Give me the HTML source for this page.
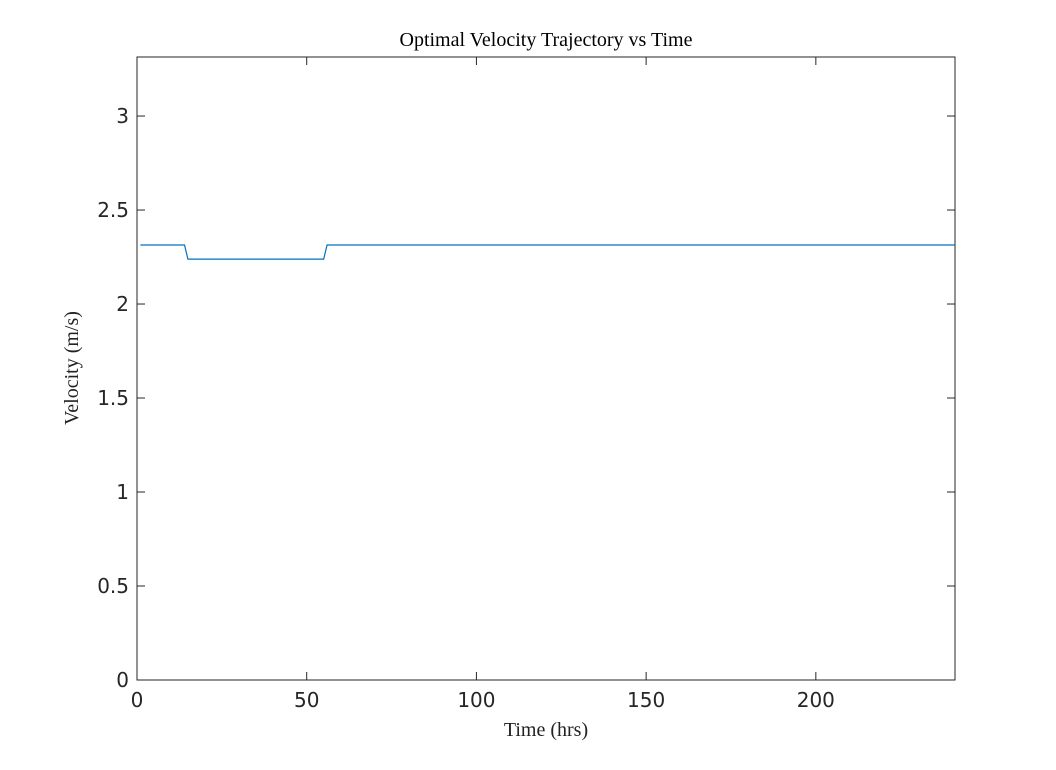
<!DOCTYPE html>
<html><head><meta charset="utf-8"><style>
body{margin:0;background:#fff;}
svg text{font-family:"DejaVu Sans","Liberation Sans",sans-serif;}
.serif{font-family:"Liberation Serif",serif;}
</style></head><body>
<svg id="chart" width="1056" height="765">
<rect width="1056" height="765" fill="#fff"/>
<g id="axes"></g>
<text class="serif" x="546" y="46" font-size="20" text-anchor="middle" fill="#000">Optimal Velocity Trajectory vs Time</text>
<text class="serif" x="546" y="736" font-size="20" text-anchor="middle" fill="#222">Time (hrs)</text>
<text class="serif" x="0" y="0" font-size="20" text-anchor="middle" fill="#222" transform="translate(78,368) rotate(-90)">Velocity (m/s)</text>
</svg>
<script>
const times=[1,14,15,55,56,241];
const velocities=[2.314,2.314,2.239,2.239,2.314,2.314];
const xTicks=[0,50,100,150,200];
const yTicks=[0,0.5,1,1.5,2,2.5,3];
const yTickLabels=["0","0.5","1","1.5","2","2.5","3"];
const L=137,R=955,T=57,B=680,XMAX=241,YMAX=3.314;
const xs=v=>L+(v/XMAX)*(R-L);
const ys=v=>B-(v/YMAX)*(B-T);
const NS="http://www.w3.org/2000/svg";
const g=document.getElementById('axes');
function mk(t,a){const e=document.createElementNS(NS,t);for(const k in a)e.setAttribute(k,a[k]);g.appendChild(e);return e;}
const box=mk('rect',{x:L,y:T,width:R-L,height:B-T,fill:'none',stroke:'#262626','stroke-width':1});


xTicks.forEach(v=>{
  const x=xs(v);
  const t1=mk('line',{x1:x,x2:x,y1:B,y2:B-8,stroke:'#262626'});
  
  
  const t2=mk('line',{x1:x,x2:x,y1:T,y2:T+8,stroke:'#262626'});
  
  
  const tx=mk('text',{x:x,y:B+27,'font-size':20,'text-anchor':'middle',fill:'#262626'});
  tx.textContent=v;
  
  
});
yTicks.forEach((v,i)=>{
  const y=ys(v);
  const t1=mk('line',{x1:L,x2:L+8,y1:y,y2:y,stroke:'#262626'});
  
  
  const t2=mk('line',{x1:R,x2:R-8,y1:y,y2:y,stroke:'#262626'});
  
  
  const tx=mk('text',{x:L-8,y:y+7,'font-size':20,'text-anchor':'end',fill:'#262626'});
  tx.textContent=yTickLabels[i];
  
  
});
const pts=times.map((t,i)=>xs(t)+','+ys(velocities[i])).join(' ');
const line=mk('polyline',{points:pts,fill:'none',stroke:'#0072bd','stroke-width':1.2});


</script>
</body></html>
